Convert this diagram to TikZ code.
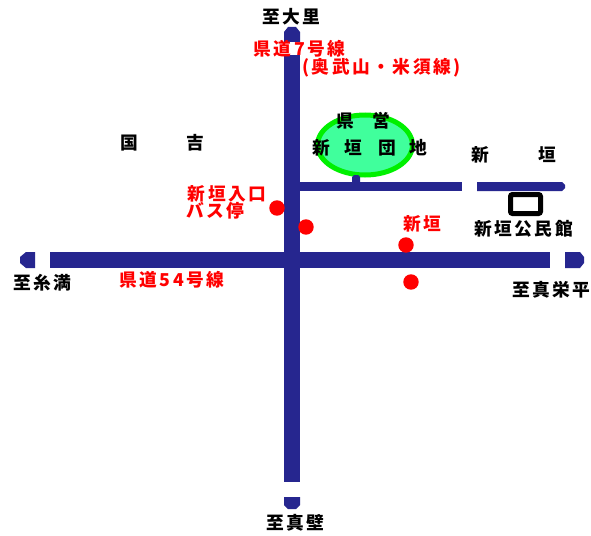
\documentclass[tikz,border=0pt]{standalone}
\usepackage{fontspec}
\usetikzlibrary{shapes.geometric}
\newfontfamily\jp[LetterSpace=14,BoldFont={Noto Sans CJK JP Black}]{Noto Sans CJK JP}
\definecolor{roadblue}{HTML}{26268F}
\definecolor{parkfill}{HTML}{40FF9C}
\definecolor{parkedge}{HTML}{00F000}
\definecolor{labelred}{HTML}{FF0000}
\tikzset{
  x=0.75pt,y=-0.75pt,
  road/.style={fill=roadblue,draw=none},
  stopdot/.style={circle,fill=labelred,draw=none,minimum size=11.6pt,inner sep=0pt},
  txt/.style={font=\jp\bfseries\fontsize{13.3pt}{15pt}\selectfont,inner sep=0pt,text=black},
  redtxt/.style={txt,text=labelred},
}
\begin{document}
\begin{tikzpicture}
\useasboundingbox (0,0) rectangle (591,535);
\fill[white] (0,0) rectangle (591,535);
% vertical road
\path[road] (284,42) -- (284,32) -- (288,27) -- (296,27) -- (300,32) -- (300,42) -- cycle;
\path[road] (284,55) rectangle (300,482);
\path[road] (284,497) -- (300,497) -- (300,505) -- (296,509) -- (288,509) -- (284,505) -- cycle;
% horizontal road
\path[road] (50,252) rectangle (550,268);
\path[road] (35,252) -- (35,268) -- (26,268) -- (20,263) -- (20,257) -- (26,252) -- cycle;
\path[road] (565,252) -- (580,252) -- (584,257) -- (584,263) -- (580,268) -- (565,268) -- cycle;
% branch
\path[road] (300,182) rectangle (462,191);
\path[road] (477,182) -- (562,182) -- (565,185) -- (565,188) -- (562,191) -- (477,191) -- cycle;
% park
\node[ellipse,draw=parkedge,fill=parkfill,line width=3.75pt,minimum width=71.25pt,minimum height=45pt,inner sep=0pt] (park) at (365,145) {};
\path[road] (352,182) -- (352,177) -- (354,175) -- (358,175) -- (360,177) -- (360,182) -- cycle;
% building
\node[draw=black,fill=white,line width=3.75pt,rounded corners=1.5pt,minimum width=22.5pt,minimum height=14.25pt,inner sep=0pt] (hall) at (525.5,204) {};
% stops
\node[stopdot] (stopa) at (277,208) {};
\node[stopdot] (stopb) at (306,227) {};
\node[stopdot] (stopc) at (406,245) {};
\node[stopdot] (stopd) at (411,282) {};
% labels
\node[txt] (ooza) at (291.5,17) {至大里};
\node[redtxt] (r7) at (299.5,49) {県道7号線};
\node[redtxt] (r7b) at (381.5,68) {(奥武山・米須線)};
\node[txt] (pa) at (345,121) {県};
\node[txt] (pb) at (381,121) {営};
\node[txt] (pc) at (321,148) {新};
\node[txt] (pd) at (353,148) {垣};
\node[txt] (pe) at (387,148) {団};
\node[txt] (pf) at (418,148) {地};
\node[txt] (ka) at (129,143) {国};
\node[txt] (kb) at (195,143) {吉};
\node[txt] (sa) at (480,155) {新};
\node[txt] (sb) at (547,155) {垣};
\node[redtxt] (busa) at (227,194) {新垣入口};
\node[redtxt] (busb) at (215.5,211) {バス停};
\node[redtxt] (shin) at (422,224) {新垣};
\node[txt] (komin) at (523.5,229) {新垣公民館};
\node[txt] (maeh) at (551.5,290) {至真栄平};
\node[txt] (itoman) at (42.5,283) {至糸満};
\node[redtxt] (r54) at (172,280) {県道54号線};
\node[txt] (makabe) at (295.5,523) {至真壁};
\end{tikzpicture}
\end{document}
